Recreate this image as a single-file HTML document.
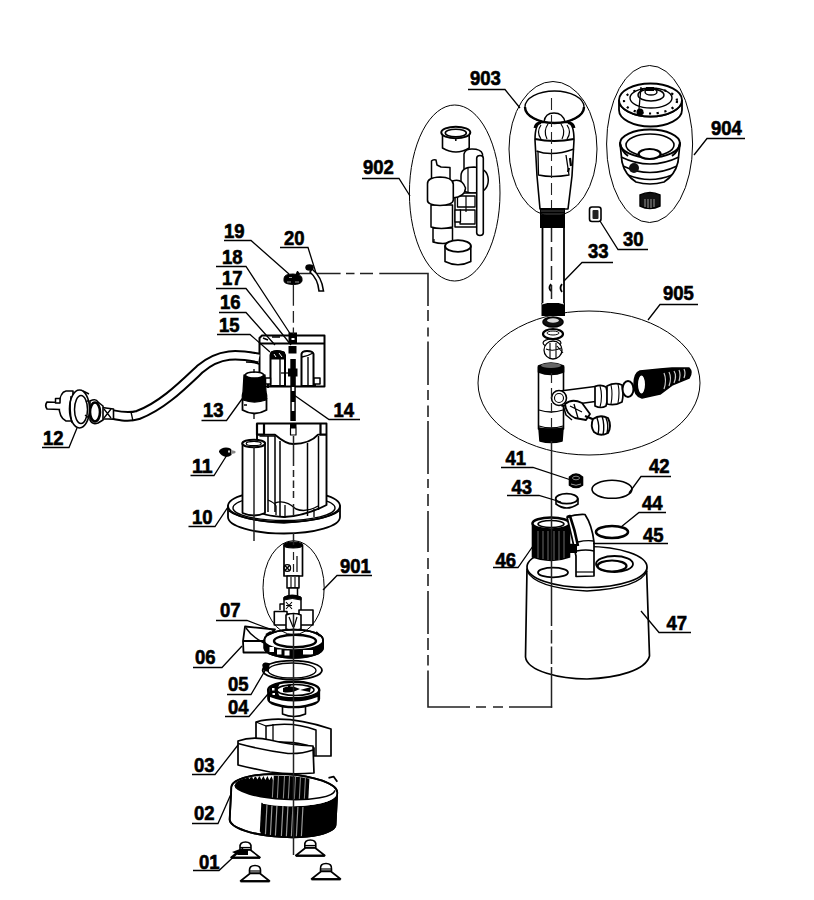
<!DOCTYPE html>
<html><head><meta charset="utf-8">
<style>
html,body{margin:0;padding:0;background:#fff;width:814px;height:900px;overflow:hidden}
svg{display:block}
text{font-family:"Liberation Sans",sans-serif;font-weight:bold;font-size:19.5px;fill:#000;stroke:#000;stroke-width:0.6px}
</style></head><body>
<svg width="814" height="900" viewBox="0 0 814 900">
<!-- ============ DASHED CONNECTOR LINES ============ -->
<g stroke="#222" stroke-width="1.6" fill="none">
<path d="M297,273.5 H340.6 M346,273.5 H354.5 M360,273.5 H373 M379.3,273.5 H428.8 M428,272.7 V306 M428,310 V321 M428,327.5 V336.5 M428,341.5 V385 M428,390 V400 M428,405.5 V417 M428,421 V474 M428,479 V488 M428,494 V506 M428,511 V552 M428,558 V569 M428,574 V586 M428,591 V634 M428,638 V650 M428,655 V665.5 M428,670.5 V707.8 M427.2,707 H470 M476,707 H486 M493,707 H503 M509,707 H552.2" stroke-linecap="butt"/>
</g>

<!-- ============ 903 ============ -->
<g stroke="#000" stroke-width="1.6" fill="#fff" stroke-linejoin="round">
<path d="M535,140 Q535,124 541,122.5 L568,122.5 Q574,124 574,140 L572,176 L568,209 L540,209 L537,176 Z"/>
<path d="M535,139 Q554,143 574,139" fill="none" stroke-width="2.2"/>
<path d="M536.5,151 Q552,157 574,149" fill="none"/>
<path d="M538,152 L538.5,175 Q552,178 569,175 L566,155" fill="none" stroke-width="1.3"/>
<path d="M541,125 Q536,132 541,139 M567,125 Q572,132 567,139 M548,124 Q543,131 547,139 M561,124 Q566,131 562,139" fill="none" stroke-width="1.2"/>
<path d="M535,128 Q536,123 541,122.5 M574,128 Q573,123 568,122.5" fill="none" stroke-width="3"/>
<ellipse cx="554.5" cy="107" rx="29.5" ry="16" stroke-width="1.3"/>
<path d="M525,107 A29.5,16 0 0 0 584,107" fill="none" stroke-width="2.4"/>
<path d="M544,122 Q545,113 554,113 Q563,113 565,122" fill="none" stroke-width="1.4"/>
<path d="M570,158 L571,166 M569,168 L568,172" fill="none" stroke-width="2.2"/>
<rect x="540" y="208" width="25" height="20" fill="#000" stroke="none"/>
<path d="M541,211 H564 M541,214 H564" stroke="#555" stroke-width="0.8" fill="none"/>
</g>
<!-- ============ 33 tube ============ -->
<g stroke="#000" stroke-width="1.8" fill="#fff">
<path d="M542.5,228 V304 M564,228 V304" fill="none"/>
<rect x="541.5" y="303" width="23.5" height="13" fill="#000" stroke="none"/>
<path d="M542,304 Q553,300 564,304" stroke="#fff" stroke-width="1" fill="none"/>
<ellipse cx="553" cy="322" rx="10" ry="5" fill="#111" stroke-width="1.5"/>
<ellipse cx="553" cy="320.5" rx="6" ry="2.2" fill="#ddd" stroke="none"/>
<ellipse cx="553" cy="334" rx="10" ry="5" stroke-width="2.2"/>
<ellipse cx="553" cy="333" rx="6" ry="2" stroke-width="1" />
<path d="M551,284 Q548,288 551,291 M562,284 Q559,288 562,292" fill="none" stroke-width="1.8"/>
</g>
<!-- ============ 30 ============ -->
<g>
<rect x="589.5" y="207" width="11.5" height="14.5" rx="2.5" fill="#fff" stroke="#000" stroke-width="1.6"/>
<rect x="592.5" y="210" width="6" height="9" rx="1" fill="#222"/>
</g>
<!-- ============ 904 ============ -->
<g stroke="#000" stroke-width="1.6" fill="#fff">
<path d="M619,100 A31.5,16.5 0 0 0 682,100 L682,110 A31.5,16.5 0 0 1 619,110 Z" stroke-width="1.8"/>
<ellipse cx="650.5" cy="100" rx="31.5" ry="16.5" stroke-width="1.8"/>
<ellipse cx="651" cy="98" rx="21" ry="10" stroke-width="1.4"/>
<ellipse cx="651" cy="95" rx="13" ry="6" stroke-width="1.4"/>
<ellipse cx="651" cy="92" rx="6" ry="3" stroke-width="1.4"/>
<rect x="646" y="87" width="8" height="4" fill="#000" stroke="none"/>
<ellipse cx="650.5" cy="101" rx="26.5" ry="12.5" fill="none" stroke="#000" stroke-width="2.2" stroke-dasharray="2.2 5.5"/>
<path d="M641,87 L639,109" fill="none" stroke-width="1.3"/>
<ellipse cx="640" cy="112" rx="3.5" ry="3.5" fill="#000" stroke="none"/>
</g>
<g stroke="#000" stroke-width="1.7" fill="#fff">
<path d="M620,143 L622,162 Q625,175 636,182 Q650,186 664,182 Q675,175 678,162 L680,143 Z"/>
<ellipse cx="650" cy="143.5" rx="30" ry="14" stroke-width="2"/>
<ellipse cx="650" cy="145" rx="24" ry="11" stroke-width="1.6"/>
<ellipse cx="649.6" cy="154" rx="11" ry="5" stroke-width="2.2"/>
<path d="M621,157 Q650,171 679,157 M623,166 Q650,179 677,166 M628,175 Q650,184 672,175" fill="none" stroke-width="1.4"/>
<ellipse cx="634" cy="168" rx="5" ry="5" fill="#111" stroke="none"/>
<path d="M620,143 Q622,152 628,156 M680,143 Q678,152 672,156" fill="none" stroke-width="2"/>
</g>
<g>
<path d="M640,195 Q650,190 660,195 V206 Q650,211 640,206 Z" fill="#111" stroke="#000" stroke-width="1.4"/>
<path d="M645,199 V207 M648,199 V208 M651,199 V208 M654,199 V207" stroke="#bbb" stroke-width="0.8"/>
</g>
<!-- ============ 902 ============ -->
<g stroke="#000" stroke-width="1.6" fill="#fff" stroke-linejoin="round">
<path d="M442.5,133 V148 Q456,156 469.2,148 V133 Z"/>
<ellipse cx="455.8" cy="132.5" rx="14.5" ry="5.8" stroke-width="2"/>
<ellipse cx="455.8" cy="133" rx="10.5" ry="3.8" stroke-width="1.6"/>
<path d="M455.8,139 V141" stroke-width="1.5"/>
<!-- right assembly -->
<path d="M464,188 V154 Q465,149 472,149 Q481,149 482.5,154 V188 Z" stroke-width="1.5"/>
<path d="M461,176 Q461,167 474,167 Q488,168 488.3,180 Q488,193 474,193 Q461,193 461,185 Z" stroke-width="1.5"/>
<path d="M455,193 H478 V227 H455 Z" stroke-width="1.5"/>
<path d="M457.5,196 H475 V207 H457.5 Z M460,210 H475 V224 H460 Z" stroke-width="1.3"/>
<path d="M455,210 H460.5 V222 H455 Z" stroke-width="1.3"/>
<path d="M476.7,158 Q477,155.5 480,155.5 Q483,155.5 483.3,158 V233 Q483,235.5 480,235.5 Q477,235.5 476.7,233 Z" stroke-width="1.6"/>
<path d="M468,168 V193 M466,196 V212" fill="none" stroke-width="1.2"/>
<!-- left tube -->
<path d="M452.5,181 Q462,178 465.5,188 Q465,197 452.5,198 Z" stroke-width="1.5"/>
<path d="M431.5,181 V161 Q433,159 436,160 L437,165 L441,167 L450,167.5 V181 Z" stroke-width="1.5"/>
<path d="M433,228 V242 Q443,245 452.5,242 V228 Z" stroke-width="1.5"/>
<path d="M431,205 V227 Q441,230 452.5,227 V205 Z" stroke-width="1.5"/>
<path d="M427.5,184 Q427,177.5 440,177 Q452,177 453.3,184 V200 Q453,205 440,205.5 Q427,205 427.5,200 Z" stroke-width="1.6"/>
<path d="M434,239 V242" fill="none" stroke-width="1.2"/>
<!-- bottom cup -->
<path d="M445,246 V261.5 Q458,268 470.8,261.5 V246 Z"/>
<ellipse cx="458" cy="246" rx="12.9" ry="5.8" stroke-width="1.8"/>
</g>
<!-- ============ 905 ============ -->
<g stroke="#000" stroke-width="1.6" fill="#fff" stroke-linejoin="round">
<ellipse cx="552" cy="343" rx="9" ry="4" stroke-width="1.2" fill="none"/>
<circle cx="553" cy="350" r="9" stroke-width="1.3"/>
<path d="M550,343 V358 M556,343 V358 M546,349 Q553,352 561,348 M557,346 L563,353" fill="none" stroke-width="1.1"/>
<!-- T body -->
<rect x="538.5" y="367" width="25" height="62" />
<path d="M538.5,366 Q551,360 563.5,366 V372 Q551,377 538.5,372 Z" fill="#000"/>
<ellipse cx="551" cy="365.5" rx="10" ry="2.5" fill="#666" stroke="none"/>
<path d="M539,426 Q551,430 563,426 M539,410 Q551,414 563,410" fill="none" stroke-width="1.3"/>
<path d="M539,428 Q551,431 563,428 L562,441 Q551,444 540,441 Z" fill="#000"/>
<!-- side arm -->
<path d="M560,391 L599,386 L599,401 L562,406 Z"/>
<circle cx="559" cy="398" r="7.5" stroke-width="1.6"/>
<circle cx="559" cy="398" r="4.5" stroke-width="1.1"/>
<path d="M595,386.5 Q601,384 606,387 Q609,396 606,406 Q601,409 595,406 Z" stroke-width="1.7"/>
<path d="M600,386 Q603,396 600,407" fill="none" stroke-width="1.1"/>
<path d="M607,386 Q615,382 622,385 Q624,394 622,402 Q615,406 607,404 Z" stroke-width="1.7"/>
<path d="M611,385 Q613,394 611,404 M618,384 Q620,393 618,403" fill="none" stroke-width="1.1"/>
<ellipse cx="628" cy="389" rx="5.5" ry="8" stroke-width="2"/>
<!-- dark connector -->
<path d="M640,371 L660,369 L672,368 L689,368 Q693,372 689,378 L672,385 L660,394 L642,398 Q634,396 634,385 Q634,373 640,371 Z" fill="#000"/>
<ellipse cx="641.5" cy="384.5" rx="4.5" ry="10" fill="#fff" stroke="#000" stroke-width="2"/>
<path d="M664,373 Q667,380 664,389 M669,372 Q672,378 669,386 M674,371 Q677,376 674,383 M679,370 Q681,374 679,381 M684,369 Q686,373 684,378" stroke="#ccc" stroke-width="1.2" fill="none"/>
<!-- valve / handle -->
<path d="M565,404 Q572,398 582,403 L590,414 L586,420 L575,418 Q566,414 565,404 Z" stroke-width="1.8"/>
<path d="M570,406 L582,412 M574,404 L578,418" fill="none" stroke-width="1.3"/>
<path d="M585,416 L595,420" fill="none" stroke-width="2.4"/>
<path d="M593,419 Q600,414 608,418 Q612,426 608,433 Q600,437 594,432 Q590,426 593,419 Z" stroke-width="1.9"/>
<path d="M597,418 Q600,426 598,434 M602,416 Q605,425 603,435 M606,418 Q609,425 607,433" fill="none" stroke-width="1.4"/>
<path d="M563,405 L566,415 L572,420" fill="none" stroke-width="1.5"/>
</g>


<!-- ============ 47 body ============ -->
<g stroke="#000" stroke-width="1.7" fill="#fff" stroke-linejoin="round">
<path d="M527,569 L525.5,657 C527,671 560,679 587,679 C618,678 646,670 649.5,656 L646.5,567 Z"/>
<ellipse cx="587" cy="567" rx="60" ry="20.5"/>
<path d="M527,571 Q535,588 587,591 Q640,588 647,571" fill="none" stroke-width="1.4"/>
<!-- left hole -->
<ellipse cx="553" cy="572.5" rx="15" ry="4.8" stroke-width="1.8"/>
<!-- right hole with ring -->
<ellipse cx="614.5" cy="564" rx="18.5" ry="8" stroke-width="1.8"/>
<ellipse cx="612" cy="566" rx="14.5" ry="5.5" stroke-width="2.2"/>
</g>
<!-- ============ 46 ============ -->
<g stroke="#000" stroke-width="1.6">
<path d="M532.5,523 V557 Q551,564 569.5,557 V523 Z" fill="#000"/>
<path d="M538,531 V558 M543,531 V559 M548,531 V560 M554,531 V560 M559,531 V560 M564,531 V558" stroke="#777" stroke-width="0.9"/>
<ellipse cx="551" cy="523.5" rx="18.5" ry="6" fill="#fff" stroke-width="2.4"/>
<ellipse cx="551" cy="524" rx="13" ry="3.5" fill="#fff" stroke-width="1.5"/>
<path d="M569.5,545 L574,545 M569.5,551 L574,551" stroke-width="2.5"/>
</g>
<!-- ============ 45 ============ -->
<g stroke="#000" stroke-width="1.7" fill="#fff" stroke-linejoin="round">
<path d="M567,517 Q576,514 585,514.5 Q592,525 594,542 L594,576 L576,576.5 L576,556 Q572,537 567,517 Z"/>
<path d="M567,517 L570,516 Q575,530 578,546" fill="none" stroke-width="2.6"/>
<path d="M578,542 Q586,540 594,541 M576.5,551 Q586,549 594,551" fill="none" stroke-width="1.4"/>
<rect x="570" y="544" width="7" height="9" fill="#000" stroke="none"/>
<path d="M576,572 L594,572" fill="none" stroke-width="1.2"/>
</g>
<!-- ============ 44 / 42 / 43 / 41 ============ -->
<g stroke="#000" fill="#fff">
<ellipse cx="612" cy="532" rx="16" ry="6" stroke-width="2.6"/>
<ellipse cx="612" cy="489.3" rx="20" ry="9" stroke-width="1.6"/>
<path d="M556,499 V504 Q566.5,512 578,504 V499 Z" stroke-width="1.6"/>
<ellipse cx="566.7" cy="498.7" rx="11" ry="5" stroke-width="1.8"/>
<path d="M569.5,477 Q576,471 582.5,477 V485 Q576,490 569.5,485 Z" fill="#000" stroke-width="1.6"/>
<ellipse cx="576" cy="478" rx="3.5" ry="1.8" fill="none" stroke="#888" stroke-width="1"/>
<path d="M571,484 Q576,486.5 581,484" stroke="#999" stroke-width="1" fill="none"/>
</g>


<!-- ============ 19 / 20 ============ -->
<g stroke="#000" fill="#fff">
<path d="M284,278.5 Q284,274 293,274 Q302,274.5 302,278.5 V281 Q301,284.5 293,284.5 Q284,284 284,281 Z" fill="#000" stroke-width="1"/>
<path d="M287,282 h4 M295,282 h4 M289,277.5 h3" stroke="#999" stroke-width="1.2"/>
<path d="M296,274.5 L297.5,271 L299.5,274.5 Z" fill="#000" stroke-width="1"/>
<ellipse cx="309.5" cy="267.5" rx="4.2" ry="3.2" fill="#000" stroke="none"/>

<path d="M312,269 Q322,277 323.5,291 L319,291 Q318,279 310,272 Z" stroke-width="1.6"/>
</g>
<!-- ============ housing 15-18 ============ -->
<g stroke="#000" stroke-width="2" fill="#fff" stroke-linejoin="round">
<path d="M262,335.5 H324.5 V386.5 H259.5 V338 Z"/>
<path d="M259.5,343.5 H324.5" fill="none"/>
<path d="M263,338 L268,340 M272,337 L280,337" fill="none" stroke-width="1.6"/>
<!-- left cylinder -->
<path d="M270.5,355 Q271,351 277,351 Q284,351 285,355 V386 H270.5 Z"/>
<path d="M271,352 Q277,350 284.5,352 L284.5,359 L271,359 Z" fill="#000" stroke-width="1"/>
<path d="M274,354 L276,357 M279,353 L282,357" stroke="#fff" stroke-width="1" fill="none"/>
<path d="M280,359 V386" fill="none" stroke-width="1.4"/>
<path d="M281,373 H291" fill="none" stroke-width="1.3"/>
<!-- right cylinder -->
<path d="M301.5,354 Q302,351 307,351 Q313,351 313.5,354 V386 H301.5 Z"/>
<path d="M302,357 Q308,356 313,353" fill="none" stroke-width="1.4"/>
<path d="M308,357 V386" fill="none" stroke-width="1.4"/>
<!-- stubs -->
<path d="M314,378 H320 V384 H314 Z M265.5,378 H270.5 V384 H265.5 Z" stroke-width="1.5"/>
<path d="M315,384 V387 M268,384 V388" fill="none" stroke-width="2"/>
</g>
<!-- shaft 14 + items 17/18 -->
<g fill="#000" stroke="none">
<rect x="288.5" y="332.5" width="8.5" height="11" />
<rect x="288.5" y="346" width="8" height="7.5" />
<rect x="290.3" y="359" width="5.5" height="62" />
<rect x="288" y="368.5" width="9.5" height="8" />
<rect x="291.8" y="387" width="2.5" height="4" fill="#fff"/>
<rect x="291.8" y="402" width="2.5" height="9" fill="#fff"/>
<rect x="291.5" y="338" width="3" height="2" fill="#fff"/>
</g>
<!-- cable inlets -->
<g stroke="#000" stroke-width="1.5" fill="none">
<path d="M246,352 Q254,352 259,356 M246,362 Q254,362 259,364"/>
</g>
<!-- ============ 13 ============ -->
<g stroke="#000" fill="#fff">
<path d="M242.5,399 V410 Q254.5,417 266.5,410 V399 Z" stroke-width="1.8"/>
<path d="M244,375 Q254.5,371 265,375 L266,392 Q267.5,398 266,400 Q254.5,404 243,400 Q241.5,398 243,392 Z" fill="#000" stroke-width="1.3"/>
<ellipse cx="254.5" cy="375" rx="9" ry="3" fill="#fff" stroke="#000" stroke-width="1.4"/>
<path d="M254,369 V373 M254,413 V419 M244,405 L247,405" stroke-width="1.3"/>
</g>
<!-- ============ cable + plug 12 ============ -->
<g stroke="#000" fill="none" stroke-linecap="butt">
<path d="M259,358 C238,354 220,352 200,369 C182,386 162,406 138,415 C125,419 114,414 104,413" stroke-width="10.5"/>
<path d="M259,358 C238,354 220,352 200,369 C182,386 162,406 138,415 C125,419 114,414 104,413" stroke="#fff" stroke-width="6.5" stroke-linecap="butt"/>
<path d="M131,412 L133,421" stroke-width="1.3"/>
</g>
<g stroke="#000" fill="#fff" stroke-linejoin="round">
<!-- strain relief -->
<path d="M102,407.5 L113.5,409 L113.5,419 L102,419 Z" stroke-width="1.6"/>
<path d="M104,409 L111,418 M111,409 L104,418" fill="none" stroke-width="1.3"/>
<!-- neck -->
<path d="M90,401 Q96,398 98,402 L103,406 L103,420 L98,423 Q92,425 90,420 Z" stroke-width="1.6"/>
<ellipse cx="95" cy="412" rx="5" ry="9.5" fill="none" stroke-width="2.6"/>
<!-- back disc -->
<path d="M66,391 Q60,392 59,405 Q59,418 66,421 L73,421 L73,391 Z" stroke-width="1.6"/>
<!-- front disc -->
<ellipse cx="79.5" cy="409" rx="10" ry="19" stroke-width="1.6"/>
<ellipse cx="81" cy="409.5" rx="6.5" ry="14" stroke-width="1.5"/>
<path d="M71,396 Q69,409 72,423" fill="none" stroke-width="1.3"/>
<!-- prongs -->
<path d="M60,402.5 L47,402 Q44.5,405.5 47,409 L60,409.5" stroke-width="1.7"/>
<path d="M55.5,398.5 H60 V403 H55.5 Z" stroke-width="1.5"/>
<path d="M83,391 L89,394 M89,400 L86,402 M85,415 L89,418" fill="none" stroke-width="1.5"/>
</g>


<!-- ============ 10 ============ -->
<g stroke="#000" stroke-width="1.8" fill="#fff" stroke-linejoin="round">
<path d="M228,506 V517 A56,16.5 0 0 0 340,517 V506 Z"/>
<ellipse cx="284" cy="506" rx="56" ry="16"/>
<ellipse cx="284" cy="508" rx="51" ry="12.5" stroke-width="1.4"/>
<!-- tower -->
<path d="M257,423.5 H326.5 V505 Q305,516 284,517 Q262,516 257,510 Z" stroke-width="1.9"/>
<path d="M264,434.7 H275 Q286,444 293,444 Q310,444 318,434.7 H320.5" fill="none"/>
<path d="M257,423.5 V434.7 H264 V423.5 M320.5,423.5 V434.7 H326.5" fill="none" stroke-width="2.2"/>
<path d="M259.5,436 H275 V512 M268,436 V512 M280,441 V516 M307.5,443 V516 M318.5,436 V510" fill="none" stroke-width="1.5"/>
<path d="M275,503 Q285,499 296,509 Q306,513 318,506" fill="none" stroke-width="1.4"/>
<path d="M268,500 Q275,503 276,506 L276,515 M285,505 V518 M314,509 V517" fill="none" stroke-width="1.3"/>
<!-- small tube -->
<path d="M242.5,443.5 V513 Q254,518 265,513 V443.5 Z"/>
<ellipse cx="253.7" cy="443.5" rx="11.4" ry="3.8" stroke-width="2"/>
<ellipse cx="253.7" cy="443.5" rx="7.5" ry="2.2" stroke-width="1.2"/>
<!-- front flange edge over tower base -->
<path d="M229,511 Q240,520 284,523 Q328,520 339,511" fill="none" stroke-width="1.6"/>
<!-- shaft hole -->
<rect x="290" y="423" width="6.5" height="5" fill="#000" stroke="none"/>
<rect x="290.5" y="428" width="5.5" height="7" fill="#fff" stroke-width="1.2"/>
</g>
<!-- ============ 11 ============ -->
<g stroke="none" fill="#000">
<path d="M219,451 Q221,447.5 226,447.5 Q231,447.5 231.5,450 V455 Q229,457 226,457 Q221,456 219,452 Z"/>
<path d="M231,450 L235,451 Q236.5,452 235,453.3 L231,454 Z" fill="#888"/>
<ellipse cx="229" cy="451.5" rx="1" ry="1.2" fill="#ddd"/>
</g>


<!-- ============ 901 ============ -->
<g stroke="#000" stroke-width="1.7" fill="#fff" stroke-linejoin="round">
<path d="M284,545 V576 H302.5 V545 Z"/>
<ellipse cx="293.2" cy="545" rx="9.2" ry="3" fill="#000" stroke-width="1.2"/>
<path d="M297,556 V572" fill="none" stroke-width="1.2"/>
<path d="M284.5,565 L290,571 M290,565 L284.5,571" fill="none" stroke-width="1.4"/>
<circle cx="287.3" cy="568" r="3.3" fill="none" stroke-width="1.2"/>
<path d="M287,576 H299 V588 H287 Z" stroke-width="1.5"/>
<path d="M291,577 V588 M295,577 V588" fill="none" stroke-width="1.1"/>
<path d="M289,588 H297.5 V596 H289 Z" stroke-width="1.5"/>
<path d="M284,598 Q292,594 301,598 V614 H284 Z" stroke-width="1.5"/>
<path d="M284,597 Q292,593 301,597 V600 Q292,597 284,600 Z" fill="#000" stroke-width="1"/>
<path d="M286,602 L292,609 M292,602 L286,609 M286,605.5 H292" fill="none" stroke-width="1.1"/>
<path d="M279.5,604 L284,604 M280,604 V610" fill="none" stroke-width="1.4"/>
<!-- vanes -->
<path d="M274.3,611.5 H287 V625 H274.3 Z" stroke-width="1.6"/>
<path d="M299,610 H313 V625 H299 Z" stroke-width="1.6"/>
<path d="M286,615 Q293.5,612 301,615 V629 Q293.5,632 286,629 Z" stroke-width="1.6"/>
<path d="M289,617 L293,627 M297,617 L294,627" fill="none" stroke-width="1.2"/>
</g>
<!-- ============ 06 / 07 ============ -->
<defs>
<clipPath id="c06band"><path d="M264.4,639.5 A29.3,9.8 0 0 0 323,639.5 V648 A29.3,9.8 0 0 1 264.4,648 Z"/></clipPath>
</defs>
<g stroke="#000" stroke-width="1.8" fill="#fff" stroke-linejoin="round">
<!-- scoop -->
<path d="M245,626.5 L275,629.5 L266,638 L267,652.5 L243.5,652.5 L243,641 Z"/>
<path d="M243,641 H267" fill="none" stroke-width="2"/>
<path d="M246,628 Q252,637 264,643" fill="none" stroke-width="1.4"/>
<!-- ring -->
<path d="M264.4,639.5 A29.3,9.8 0 0 1 323,639.5 V648 A29.3,9.8 0 0 1 264.4,648 Z"/>
<g clip-path="url(#c06band)" stroke="none">
<rect x="262" y="630" width="64" height="30" fill="#000"/>
<path d="M269.5,647 h4.5 v5 h-4.5 z M277,649.5 h4.5 v5 h-4.5 z M284.5,650.5 h5 v5 h-5 z M303,650 h10 v4.5 h-10 z" fill="#fff"/>
</g>
<path d="M264.4,639.5 A29.3,9.8 0 0 1 323,639.5 V648 A29.3,9.8 0 0 1 264.4,648 Z" fill="none"/>
<ellipse cx="295" cy="641" rx="21" ry="6.3" fill="#fff" stroke-width="2.4"/>
<path d="M266,635 L271,632 M316,632 L320,636" fill="none" stroke-width="2.2"/>
</g>
<!-- ============ 05 ============ -->
<g stroke="#000" fill="none">
<ellipse cx="292.3" cy="670.2" rx="29.7" ry="9.5" stroke-width="1.8"/>
<ellipse cx="292" cy="670.5" rx="24" ry="7.5" stroke-width="1.3"/>
<path d="M263,665 Q264,662 269,664 L268,671 L264,670 Z" fill="#000" stroke-width="1.5"/>
</g>
<!-- ============ 04 ============ -->
<g stroke="#000" stroke-width="1.7" fill="#fff" stroke-linejoin="round">
<path d="M282.5,706 V714 Q294,719 305.5,714 V706 Z" stroke-width="1.6"/>
<path d="M268,690 V699 A25.6,8.5 0 0 0 319.3,699 V690 Z" fill="#000"/>
<path d="M270,701 Q294,711 317.5,701 L317.5,697 Q294,706 270,697 Z" fill="#fff" stroke="none"/>
<ellipse cx="293.7" cy="690" rx="25.6" ry="8.2" fill="#fff" stroke-width="2.4"/>
<path d="M269,690 Q270,684 280,683 Q276,690 280,697 Q270,696 269,690 Z" fill="#000" stroke="none"/>
<ellipse cx="295.5" cy="690" rx="18.5" ry="5.5" fill="#fff" stroke-width="1.6"/>
<path d="M283,688 Q290,684 300,689 Q290,694 283,692 Z M300,690 L311,687 L310,692 Z M287,685 L292,684 L289,688 Z" fill="#000" stroke="none"/>
<path d="M272,688 h2.5 v2.5 h-2.5 z M272.5,693 h2.5 v2 h-2.5z" fill="#fff" stroke="none"/>
</g>


<!-- ============ 03 ============ -->
<g stroke="#000" stroke-width="1.7" fill="#fff" stroke-linejoin="round">
<!-- back block -->
<path d="M256,722 Q285,714 331,729 V756 H314 V748 Q300,741 266,742 H256 Z"/>
<path d="M266,742 V726 Q292,721 316,730 V756" fill="none" stroke-width="1.5"/>
<path d="M256,722 L266,726" fill="none" stroke-width="1.3"/>
<path d="M273,724 V743" fill="none" stroke-width="1.3"/>
<!-- front block -->
<path d="M238,741 Q252,736 270,740 Q290,745 313,746 L314,773 Q290,775 270,772 Q250,768 238,765 Z"/>
<path d="M238,743.5 Q262,750 288,753.5 Q302,754 313,750" fill="none" stroke-width="1.5"/>

</g>
<!-- ============ 02 ============ -->
<g transform="rotate(3 283.5 805)">
<defs>
<clipPath id="c02in"><ellipse cx="284" cy="787.5" rx="50" ry="11.8"/></clipPath>
<clipPath id="c02out"><path d="M230.5,790 A53,16 0 0 0 336.5,790 V822 A53,15 0 0 1 230.5,822 Z"/></clipPath>
</defs>
<g stroke="#000" stroke-width="1.8" fill="#fff" stroke-linejoin="round">
<path d="M230.5,790 A53,16 0 0 1 336.5,790 V822 A53,15 0 0 1 230.5,822 Z"/>
<g clip-path="url(#c02in)" stroke="none">
<rect x="228" y="770" width="80" height="40" fill="#000"/>
<path d="M272,772 V802 M277,772 V802 M283,772 V802 M288,772 V802 M294,772 V802 M299,772 V802 M304,772 V802" stroke="#888" stroke-width="1.1"/>
<path d="M236,781 l2,-3 l2,3 l2,-3.5 l2,3.5 l2,-4 l2,4 l2,-4 l2,4 l2,-4 l2,4 l2,-4 l2,4 l2,-4 l2,4 l2,-4 l2,4 l2,-4 l2,4 V774 H236 Z" fill="#fff" stroke="none"/>
</g>
<g clip-path="url(#c02out)" stroke="none">
<rect x="262" y="785" width="76" height="60" fill="#000"/>
<path d="M267,806 V836 M272,806 V837 M277,806 V837 M283,806 V837 M288,806 V837 M293,806 V837 M298,806 V837 M303,806 V836" stroke="#999" stroke-width="1.2"/>
</g>
<path d="M234,787.5 A50,11.8 0 0 0 334,787.5 L336.5,790 A53,16 0 0 1 230.5,790 Z" fill="#fff" stroke="none"/>
<path d="M234,787.5 A50,11.8 0 0 0 334,787.5" fill="none" stroke-width="1.5"/>
<path d="M230.5,790 A53,16 0 0 1 336.5,790 V822 A53,15 0 0 1 230.5,822 Z" fill="none"/>
<path d="M262,804 V833" fill="none" stroke-width="1.5"/>
<path d="M327,775.5 L332,774 L336,779" fill="none" stroke-width="1.8"/>
</g>
</g>
<!-- ============ 01 feet ============ -->

<g transform="translate(245.5,850.5)" stroke="#000" stroke-width="1.6" fill="#fff" stroke-linejoin="round">
<path d="M-14.5,7 L-5,-0.5 H5 L14.5,7 Z"/>
<path d="M-14.5,7.3 H14.5" fill="none" stroke-width="2.2"/>
<path d="M-5.5,-1 V-3 Q-6,-8.5 0,-8.5 Q6,-8.5 5.5,-3 V-1 Z"/>
<path d="M-5.5,-3 H5.5" fill="none" stroke-width="1.2"/>
</g>
<g transform="translate(310.3,848.5)" stroke="#000" stroke-width="1.6" fill="#fff" stroke-linejoin="round">
<path d="M-14.5,7 L-5,-0.5 H5 L14.5,7 Z"/>
<path d="M-14.5,7.3 H14.5" fill="none" stroke-width="2.2"/>
<path d="M-5.5,-1 V-3 Q-6,-8.5 0,-8.5 Q6,-8.5 5.5,-3 V-1 Z"/>
<path d="M-5.5,-3 H5.5" fill="none" stroke-width="1.2"/>
</g>
<g transform="translate(255,874)" stroke="#000" stroke-width="1.6" fill="#fff" stroke-linejoin="round">
<path d="M-14.5,7 L-5,-0.5 H5 L14.5,7 Z"/>
<path d="M-14.5,7.3 H14.5" fill="none" stroke-width="2.2"/>
<path d="M-5.5,-1 V-3 Q-6,-8.5 0,-8.5 Q6,-8.5 5.5,-3 V-1 Z"/>
<path d="M-5.5,-3 H5.5" fill="none" stroke-width="1.2"/>
</g>
<g transform="translate(326,872)" stroke="#000" stroke-width="1.6" fill="#fff" stroke-linejoin="round">
<path d="M-14.5,7 L-5,-0.5 H5 L14.5,7 Z"/>
<path d="M-14.5,7.3 H14.5" fill="none" stroke-width="2.2"/>
<path d="M-5.5,-1 V-3 Q-6,-8.5 0,-8.5 Q6,-8.5 5.5,-3 V-1 Z"/>
<path d="M-5.5,-3 H5.5" fill="none" stroke-width="1.2"/>
</g>
<path d="M232,852 L240,849 L248,850 L248,855 L238,855 Z" fill="#000"/>
<!-- ============ ELLIPSE OUTLINES ============ -->
<g stroke="#000" stroke-width="1" fill="none">
<ellipse cx="553" cy="149" rx="44" ry="67.5"/>
<ellipse cx="454.7" cy="193" rx="45.3" ry="88"/>
<ellipse cx="649.6" cy="144" rx="43" ry="78.5"/>
<ellipse cx="589" cy="383" rx="111" ry="72"/>
<ellipse cx="293.6" cy="587.7" rx="30.6" ry="47"/>
</g>

<!-- ============ AXIS LINES (on top) ============ -->
<g stroke="#222" stroke-width="1.5" fill="none">
<path d="M293.4,284.5 V305.7 M293.4,311 V322.7 M293.4,327.5 V334" stroke-width="1.3"/>
<path d="M551.5,228 V303" stroke-dasharray="14 5"/>
<path d="M551.5,98 V208" stroke-dasharray="12 5" stroke-width="1.1"/>
<path d="M551.5,441 V626 M551.5,630 V643.5 M551.5,646.5 V664 M551.5,667 V707.8"/>
<path d="M551.5,373 V428" stroke-dasharray="10 5" stroke-width="1.2"/>
<path d="M293.5,436 V466 M293.5,470 V477 M293.5,480.5 V488 M293.5,491 V498 M293.5,504 V516"/>
<path d="M254,446 V541" />
<path d="M293.5,533 V545" />
<path d="M293.5,552 V572" stroke-dasharray="8 4" stroke-width="1.2"/>
<path d="M293.5,614 V855" />

</g>
<!-- ============ LABEL LINES ============ -->
<g id="labels" stroke="#000" stroke-width="1.3" fill="none">
<polyline points="468,89.5 505,89.5 520,108"/>
<polyline points="745,138.5 707,138.5 694,155"/>
<polyline points="362,178.5 399,178.5 410,196"/>
<polyline points="648,249.5 618,249.5 600,221"/>
<polyline points="613,262.5 582,262.5 564,281"/>
<polyline points="698,304.5 660,304.5 648,320"/>
<polyline points="224,240.5 251,240.5 289,274"/>
<polyline points="280,247.5 308,247.5 316,273"/>
<polyline points="216,266.5 246,266.5 291,335"/>
<polyline points="216,288.5 246,288.5 291,345"/>
<polyline points="219,312.5 246,312.5 275,345"/>
<polyline points="217,334.5 250,334.5 270,352"/>
<polyline points="201.5,420.5 226.5,420.5 242,399"/>
<polyline points="360,419.5 329,419.5 294,395"/>
<polyline points="42,447.5 69,447.5 77,428"/>
<polyline points="190.5,475.5 214,475.5 227,455"/>
<polyline points="188.5,526.5 215,526.5 228,507"/>
<polyline points="501,467.5 533,467.5 571,480"/>
<polyline points="671,476.5 641,476.5 629,493"/>
<polyline points="507,495.5 539,495.5 561,502"/>
<polyline points="666,512.5 639,512.5 621,527"/>
<polyline points="668,543.5 593,543.5"/>
<polyline points="493,567.5 518,567.5 533,546"/>
<polyline points="691,632.5 659,632.5 641,611"/>
<polyline points="372,575.5 337,575.5 323,590"/>
<polyline points="216,620.5 247,620.5 275,631"/>
<polyline points="193,667.5 222,667.5 242,646"/>
<polyline points="227,694.5 251,694.5 266,669"/>
<polyline points="225,716.5 249,716.5 268,694"/>
<polyline points="192,774.5 215,774.5 238,745"/>
<polyline points="192,823.5 218,823.5 231,794"/>
<polyline points="193,870.5 219,870.5 243,848"/>
</g>
<g id="texts">
<text x="470" y="85" textLength="30.9" lengthAdjust="spacingAndGlyphs">903</text>
<text x="711" y="135" textLength="30.9" lengthAdjust="spacingAndGlyphs">904</text>
<text x="363" y="174" textLength="30.9" lengthAdjust="spacingAndGlyphs">902</text>
<text x="623" y="246" textLength="20.6" lengthAdjust="spacingAndGlyphs">30</text>
<text x="588" y="258" textLength="20.6" lengthAdjust="spacingAndGlyphs">33</text>
<text x="663" y="300" textLength="30.9" lengthAdjust="spacingAndGlyphs">905</text>
<text x="224" y="238" textLength="20.6" lengthAdjust="spacingAndGlyphs">19</text>
<text x="284" y="245" textLength="20.6" lengthAdjust="spacingAndGlyphs">20</text>
<text x="222" y="264" textLength="20.6" lengthAdjust="spacingAndGlyphs">18</text>
<text x="222" y="285" textLength="20.6" lengthAdjust="spacingAndGlyphs">17</text>
<text x="220" y="309" textLength="20.6" lengthAdjust="spacingAndGlyphs">16</text>
<text x="219" y="332" textLength="20.6" lengthAdjust="spacingAndGlyphs">15</text>
<text x="203" y="417" textLength="20.6" lengthAdjust="spacingAndGlyphs">13</text>
<text x="333.5" y="417" textLength="20.6" lengthAdjust="spacingAndGlyphs">14</text>
<text x="43" y="445" textLength="20.6" lengthAdjust="spacingAndGlyphs">12</text>
<text x="192" y="473" textLength="20.6" lengthAdjust="spacingAndGlyphs">11</text>
<text x="192" y="524" textLength="20.6" lengthAdjust="spacingAndGlyphs">10</text>
<text x="505.5" y="465" textLength="20.6" lengthAdjust="spacingAndGlyphs">41</text>
<text x="649" y="473" textLength="20.6" lengthAdjust="spacingAndGlyphs">42</text>
<text x="511.5" y="494" textLength="20.6" lengthAdjust="spacingAndGlyphs">43</text>
<text x="642" y="510" textLength="20.6" lengthAdjust="spacingAndGlyphs">44</text>
<text x="643" y="542" textLength="20.6" lengthAdjust="spacingAndGlyphs">45</text>
<text x="495.5" y="566.5" textLength="20.6" lengthAdjust="spacingAndGlyphs">46</text>
<text x="666.5" y="630" textLength="20.6" lengthAdjust="spacingAndGlyphs">47</text>
<text x="340" y="573" textLength="30.9" lengthAdjust="spacingAndGlyphs">901</text>
<text x="220" y="617" textLength="20.6" lengthAdjust="spacingAndGlyphs">07</text>
<text x="195" y="664" textLength="20.6" lengthAdjust="spacingAndGlyphs">06</text>
<text x="228" y="691" textLength="20.6" lengthAdjust="spacingAndGlyphs">05</text>
<text x="228" y="714" textLength="20.6" lengthAdjust="spacingAndGlyphs">04</text>
<text x="194" y="772" textLength="20.6" lengthAdjust="spacingAndGlyphs">03</text>
<text x="194" y="820" textLength="20.6" lengthAdjust="spacingAndGlyphs">02</text>
<text x="199" y="869" textLength="20.6" lengthAdjust="spacingAndGlyphs">01</text>
</g>
</svg>
</body></html>
